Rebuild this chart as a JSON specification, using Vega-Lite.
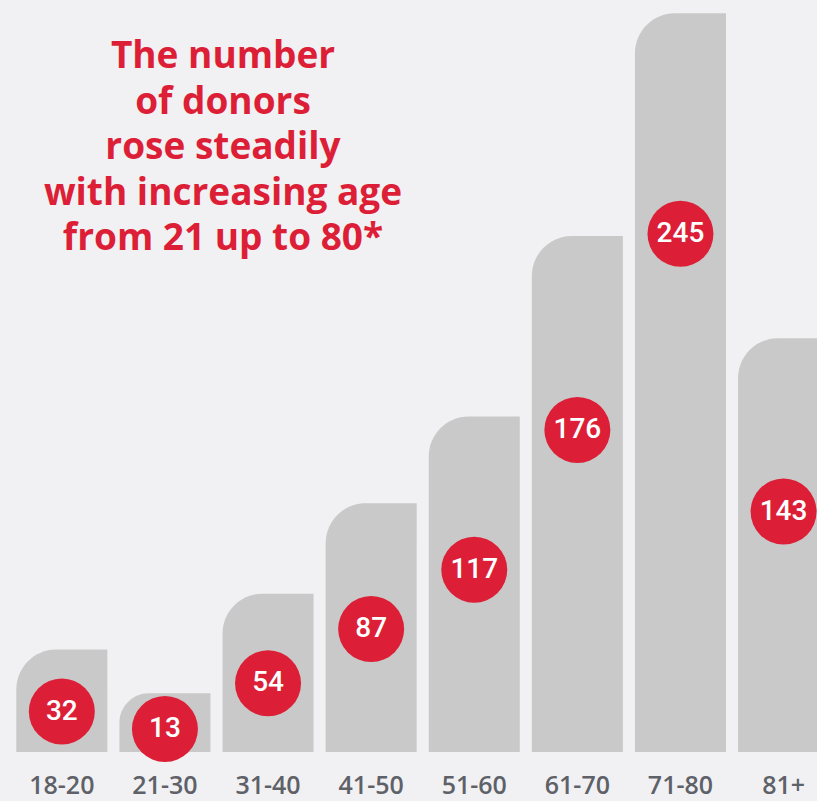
{
  "$schema": "https://vega.github.io/schema/vega-lite/v6.json",
  "width": 817,
  "height": 752,
  "autosize": {"type": "none"},
  "padding": {"left": 0, "right": 0, "top": 0, "bottom": 49},
  "background": "#f1f1f3",
  "config": {"view": {"stroke": null}},
  "title": {
    "text": ["The number", "of donors", "rose steadily", "with increasing age", "from 21 up to 80*"],
    "anchor": "start",
    "frame": "group",
    "align": "center",
    "dx": 223,
    "orient": "top",
    "offset": -258,
    "font": "Open Sans",
    "fontSize": 37,
    "fontWeight": "bold",
    "lineHeight": 45.5,
    "color": "#dc1f36"
  },
  "data": {
    "values": [
      {"age": "18-20", "donors": 32},
      {"age": "21-30", "donors": 13},
      {"age": "31-40", "donors": 54},
      {"age": "41-50", "donors": 87},
      {"age": "51-60", "donors": 117},
      {"age": "61-70", "donors": 176},
      {"age": "71-80", "donors": 245},
      {"age": "81+", "donors": 143}
    ]
  },
  "encoding": {
    "x": {
      "field": "age",
      "type": "nominal",
      "sort": null,
      "scale": {"range": [16.3, 829.1], "paddingInner": 0.117, "paddingOuter": 0},
      "axis": {
        "title": null,
        "ticks": false,
        "domain": false,
        "grid": false,
        "labelAngle": 0,
        "labelFont": "Open Sans",
        "labelFontSize": 25,
        "labelFontWeight": 600,
        "labelColor": "#5e6168",
        "labelPadding": 41,
        "labelBaseline": "alphabetic",
        "labelOverlap": false
      }
    }
  },
  "layer": [
    {
      "mark": {"type": "bar", "color": "#c8c9c8", "cornerRadiusTopLeft": 40, "clip": true},
      "encoding": {
        "y": {
          "field": "donors",
          "type": "quantitative",
          "scale": {"type": "pow", "exponent": 1.15, "domain": [-18, 245], "range": [752.3, 13.3]},
          "axis": null
        },
        "y2": {"datum": -18}
      }
    },
    {
      "encoding": {
        "y": {
          "field": "donors",
          "type": "quantitative",
          "scale": {"type": "pow", "exponent": 1.5, "domain": [-25.8, 245], "range": [752.3, 233.8]},
          "axis": null
        }
      },
      "layer": [
        {"mark": {"type": "point", "shape": "circle", "filled": true, "color": "#dc1f36", "size": 4356, "opacity": 1, "strokeWidth": 0}},
        {
          "mark": {"type": "text", "color": "#ffffff", "font": "Roboto", "fontSize": 28, "fontWeight": 500, "baseline": "middle"},
          "encoding": {"text": {"field": "donors", "type": "quantitative"}}
        }
      ]
    }
  ],
  "resolve": {"scale": {"y": "independent"}}
}
